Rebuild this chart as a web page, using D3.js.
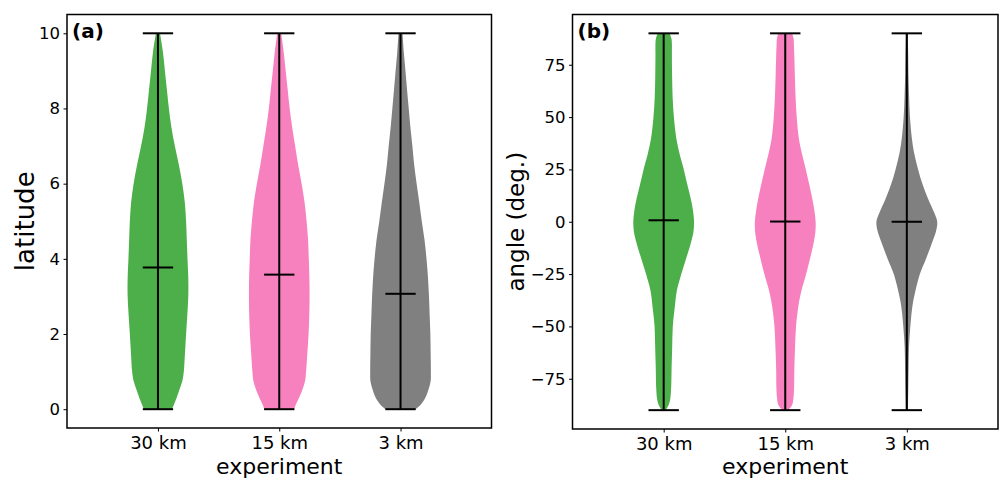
<!DOCTYPE html>
<html>
<head>
<meta charset="utf-8">
<script src="https://cdn.jsdelivr.net/npm/d3@7"></script>
<style>
  body { margin: 0; background: #fff; }
  svg { display: block; font-family: "DejaVu Sans", sans-serif; }
</style>
</head>
<body>
<svg id="chart" width="1001" height="480"></svg>
<script>
// experiments shown on the x axis
const experiments = ["30 km", "15 km", "3 km"];
const colors = ["#4daf4a", "#f781bf", "#808080"];

// panel (a): latitude, KDE half-widths
const latSamples = [0, 0.1, 0.25, 0.5, 0.75, 1, 1.5, 2, 2.5, 3, 3.5, 4, 4.5, 5, 5.5, 6, 6.5, 7, 7.5, 8, 8.5, 9, 9.5, 10];
const lat30 = [14, 15.7, 18, 21.3, 24.5, 26, 27.2, 28.3, 29.5, 30.5, 30.5, 29.7, 29, 28.3, 27, 24.5, 21, 17, 13.5, 11, 9, 7, 5, 2];
const lat15 = [15, 16.3, 19, 23, 26, 27, 28.3, 29.5, 30.2, 30.5, 30.3, 29.7, 29, 27.5, 25.5, 22.5, 19, 16, 13, 10.5, 8.5, 6.5, 4.5, 2];
const lat3 = [15, 19.7, 24, 28, 30.5, 30.7, 30.5, 30.2, 29.5, 28.8, 27.8, 26.3, 24.3, 21.5, 19, 16.3, 13.8, 12, 10, 8.3, 6.6, 5, 3.3, 2];
const latMeans = [3.77, 3.58, 3.07];
const latRange = [0, 10];
const latTicks = [0, 2, 4, 6, 8, 10];

// panel (b): angle
const angSamples = [-90, -87.5, -85, -80, -70, -60, -50, -40, -33, -25, -17.5, -10, -5, 0, 5, 10, 17.5, 25, 33, 40, 50, 60, 70, 80, 85, 87.5, 90];
const ang30 = [2, 5, 6.5, 7.5, 8, 8.6, 9.2, 11.4, 13.3, 17.8, 22.7, 27.5, 30, 30.7, 29.7, 27.8, 24, 20.3, 15.8, 12.7, 10.3, 9, 8.5, 8.3, 8.3, 7.8, 6];
const ang15 = [3, 7, 8.2, 9, 9.3, 10, 11, 13.5, 16.5, 21.3, 25.3, 29, 30.7, 31, 29.8, 28, 24.6, 21, 16.8, 13.8, 11.7, 10.5, 9.8, 9.2, 8.8, 8.5, 7];
const ang3 = [1, 1.2, 1.3, 1.5, 1.8, 2.2, 3.6, 5.8, 8.8, 13.3, 19.7, 25.7, 29.5, 31, 27.3, 22.5, 16.3, 11.5, 7.4, 5.1, 3.2, 2.3, 1.7, 1.4, 1.2, 1.1, 1];
const angMeans = [0.7, 0.1, 0];
const angRange = [-90, 90];
const angTicks = [-75, -50, -25, 0, 25, 50, 75];

const svg = d3.select("#chart");

function drawPanel(cfg) {
    const x = d3.scaleLinear().domain([0.25, 3.75]).range([cfg.left, cfg.right]);
    const pad = (cfg.range[1] - cfg.range[0]) * 0.05;
    const y = d3.scaleLinear().domain([cfg.range[0] - pad, cfg.range[1] + pad]).range([cfg.bottom, cfg.top]);
    const g = svg.append("g");
    const unit = x(1) - x(0);

    cfg.dens.forEach((dens, i) => {
        const pos = i + 1;
        const mx = d3.max(dens);
        const w = d3.scaleLinear().domain([0, mx]).range([0, 0.25 * unit]);
        const pts = cfg.samples.map((v, k) => ({ v: v, d: dens[k] }));
        const area = d3.area().curve(d3.curveCatmullRom.alpha(0.5))
            .y(d => y(d.v)).x0(d => x(pos) - w(d.d)).x1(d => x(pos) + w(d.d));
        g.append("path").attr("d", area(pts)).attr("fill", colors[i]);

        const lines = g.append("g").attr("stroke", "#000").attr("stroke-width", 2);
        lines.append("line").attr("x1", x(pos)).attr("x2", x(pos)).attr("y1", y(cfg.range[0])).attr("y2", y(cfg.range[1]));
        [cfg.range[0], cfg.range[1], cfg.means[i]].forEach(v => {
            lines.append("line").attr("x1", x(pos - 0.125)).attr("x2", x(pos + 0.125)).attr("y1", y(v)).attr("y2", y(v));
        });
    });

    // axes
    const ya = g.append("g").attr("transform", `translate(${cfg.left},0)`)
        .call(d3.axisLeft(y).tickValues(cfg.ticks).tickSize(3.5).tickPadding(3.5));
    ya.select(".domain").remove();
    ya.selectAll("text").attr("font-size", 16.5).attr("font-family", "DejaVu Sans").attr("fill", "#000");
    ya.selectAll("line").attr("stroke", "#000");

    const xa = g.append("g").attr("transform", `translate(0,${cfg.bottom})`)
        .call(d3.axisBottom(x).tickValues([1, 2, 3]).tickFormat((d, i) => experiments[i]).tickSize(3.5).tickPadding(5));
    xa.select(".domain").remove();
    xa.selectAll("text").attr("font-size", 18).attr("font-family", "DejaVu Sans").attr("fill", "#000");
    xa.selectAll("line").attr("stroke", "#000");

    g.append("rect").attr("x", cfg.left).attr("y", cfg.top)
        .attr("width", cfg.right - cfg.left).attr("height", cfg.bottom - cfg.top)
        .attr("fill", "none").attr("stroke", "#000").attr("stroke-width", 1.5);

    g.append("text").attr("x", cfg.left + 5).attr("y", cfg.top + 23)
        .attr("font-size", 20).attr("font-weight", "bold").text(cfg.tag);

    g.append("text").attr("x", (cfg.left + cfg.right) / 2).attr("y", 474)
        .attr("text-anchor", "middle").attr("font-size", 22).text("experiment");

    g.append("text").attr("transform", `translate(${cfg.ylabX},${(cfg.top + cfg.bottom) / 2}) rotate(-90)`)
        .attr("text-anchor", "middle").attr("font-size", cfg.ylabSize).text(cfg.ylab);
}

drawPanel({ left: 67, right: 491.5, top: 14.5, bottom: 428, samples: latSamples, dens: [lat30, lat15, lat3],
    means: latMeans, range: latRange, ticks: latTicks, tag: "(a)", ylab: "latitude", ylabX: 34, ylabSize: 26 });
drawPanel({ left: 572.5, right: 998, top: 14.5, bottom: 429, samples: angSamples, dens: [ang30, ang15, ang3],
    means: angMeans, range: angRange, ticks: angTicks, tag: "(b)", ylab: "angle (deg.)", ylabX: 524, ylabSize: 23 });
</script>
</body>
</html>
